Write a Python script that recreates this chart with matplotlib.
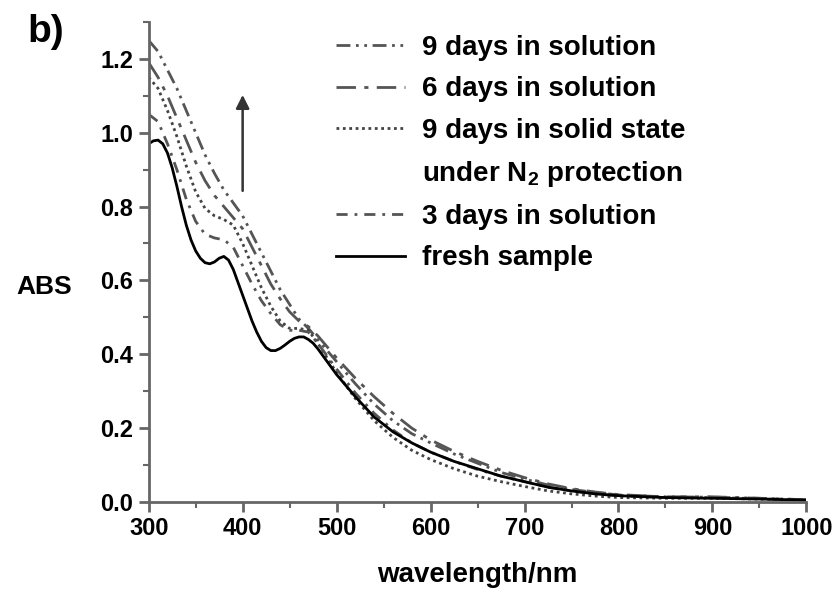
import numpy as np
import matplotlib
matplotlib.use('Agg')
import matplotlib.pyplot as plt
from matplotlib.lines import Line2D
from matplotlib.ticker import MultipleLocator

plt.rcParams['font.family'] = ['Liberation Sans', 'DejaVu Sans']
plt.rcParams['font.weight'] = 'bold'
plt.rcParams['mathtext.fontset'] = 'custom'
plt.rcParams['mathtext.rm'] = 'Liberation Sans:bold'
plt.rcParams['mathtext.bf'] = 'Liberation Sans:bold'
plt.rcParams['mathtext.default'] = 'bf'

# wavelength grid (nm)
wl = np.array([300, 310, 320, 330, 340, 350, 360, 370, 380, 390, 400, 410, 420, 430, 440,
               450, 460, 470, 480, 490, 500, 520, 540, 560, 580, 600, 625, 650, 675, 700,
               725, 750, 775, 800, 850, 900, 950, 1000])

# absorbance
day3_sol = np.array([1.05, 1.03, 0.97, 0.90, 0.82, 0.76, 0.725, 0.715, 0.71, 0.69, 0.64, 0.59, 0.545, 0.51, 0.48,
                     0.465, 0.465, 0.46, 0.43, 0.395, 0.36, 0.295, 0.24, 0.195, 0.16, 0.135, 0.11, 0.088, 0.07, 0.055,
                     0.04, 0.03, 0.022, 0.017, 0.012, 0.012, 0.009, 0.005])
day9_solid = np.array([1.15, 1.12, 1.06, 0.99, 0.91, 0.84, 0.795, 0.775, 0.765, 0.75, 0.70, 0.64, 0.58, 0.53, 0.49,
                       0.47, 0.47, 0.465, 0.43, 0.39, 0.35, 0.28, 0.22, 0.175, 0.14, 0.115, 0.09, 0.07, 0.055, 0.042,
                       0.03, 0.022, 0.016, 0.012, 0.01, 0.01, 0.008, 0.005])
day6_sol = np.array([1.19, 1.15, 1.10, 1.04, 0.98, 0.92, 0.87, 0.83, 0.80, 0.77, 0.74, 0.69, 0.64, 0.59, 0.55,
                     0.515, 0.49, 0.475, 0.45, 0.42, 0.39, 0.335, 0.285, 0.24, 0.2, 0.168, 0.137, 0.11, 0.086, 0.066,
                     0.049, 0.036, 0.027, 0.02, 0.014, 0.014, 0.01, 0.006])
day9_sol = np.array([1.25, 1.22, 1.17, 1.12, 1.06, 1.00, 0.94, 0.89, 0.845, 0.81, 0.775, 0.725, 0.675, 0.625, 0.575,
                     0.535, 0.495, 0.47, 0.44, 0.41, 0.38, 0.32, 0.265, 0.22, 0.185, 0.16, 0.13, 0.105, 0.08, 0.062,
                     0.046, 0.034, 0.026, 0.019, 0.014, 0.013, 0.01, 0.006])

wl_fresh = np.array([300, 305, 310, 315, 320, 325, 330, 335, 340, 345, 350, 355, 360, 365, 370, 375,
                     380, 385, 390, 395, 400, 405, 410, 415, 420, 425, 430, 435, 440, 445, 450, 455,
                     460, 465, 470, 475, 480, 490, 500, 520, 540, 560, 580, 600, 625, 650, 675, 700,
                     725, 750, 775, 800, 850, 900, 950, 1000])
fresh = np.array([0.970, 0.978, 0.980, 0.970, 0.945, 0.905, 0.855, 0.80, 0.75, 0.71, 0.68, 0.66, 0.648, 0.645, 0.65, 0.66,
                  0.665, 0.655, 0.63, 0.595, 0.56, 0.525, 0.49, 0.46, 0.435, 0.418, 0.41, 0.41, 0.416, 0.425, 0.435, 0.443,
                  0.447, 0.447, 0.44, 0.43, 0.415, 0.38, 0.345, 0.285, 0.23, 0.19, 0.16, 0.135, 0.11, 0.09, 0.07, 0.055,
                  0.04, 0.03, 0.022, 0.017, 0.012, 0.01, 0.008, 0.005])

fig = plt.figure(figsize=(8.4, 5.93), dpi=100)
ax = fig.add_axes([0.177, 0.1535, 0.783, 0.8095])

gray = '#555555'
ax.plot(wl, day9_sol, color=gray, lw=2, ls=(0, (5, 2, 1, 2, 1, 2)), label='9 days in solution')
ax.plot(wl, day6_sol, color=gray, lw=2, ls=(0, (7, 3, 1.5, 3)), label='6 days in solution')
ax.plot(wl, day9_solid, color='#444444', lw=2, ls=(0, (1, 1.3)), label='9 days in solid state')
ax.plot(wl, day3_sol, color=gray, lw=2, ls=(0, (4, 2.5, 1, 2.5)), label='3 days in solution')
ax.plot(wl_fresh, fresh, color='black', lw=2, label='fresh sample')

ax.annotate('', xy=(400, 1.11), xytext=(400, 0.835),
            arrowprops=dict(arrowstyle='-|>', color='#333333', lw=1.8, mutation_scale=20))

ax.set_xlim(300, 1000)
ax.set_ylim(0, 1.3)
ax.xaxis.set_major_locator(MultipleLocator(100))
ax.xaxis.set_minor_locator(MultipleLocator(50))
ax.yaxis.set_minor_locator(MultipleLocator(0.1))
ax.set_yticks(np.arange(0, 1.21, 0.2))
ax.set_yticklabels(['%.1f' % v for v in np.arange(0, 1.21, 0.2)])

for s in ['top', 'right']:
    ax.spines[s].set_visible(False)
for s in ['left', 'bottom']:
    ax.spines[s].set_color('#666666')
    ax.spines[s].set_linewidth(2)
ax.tick_params(which='major', direction='out', length=7, width=2, color='#666666',
               labelsize=17, pad=4)
ax.tick_params(which='minor', direction='out', length=4, width=1.5, color='#666666')
for lab in ax.get_xticklabels() + ax.get_yticklabels():
    lab.set_fontweight('bold')

ax.set_xlabel('wavelength/nm', fontsize=20, fontweight='bold', labelpad=16)
fig.text(0.02, 0.516, 'ABS', fontsize=19, fontweight='bold', va='center')
fig.text(0.033, 0.946, 'b)', fontsize=28, fontweight='bold', va='center')

handles, labels = ax.get_legend_handles_labels()
blank = Line2D([], [], color='none')
handles = handles[:3] + [blank] + handles[3:]
labels = labels[:3] + [r'under N$_2$ protection'] + labels[3:]
ax.legend(handles, labels, loc='upper left', bbox_to_anchor=(336 / 840, 1 - 35 / 593),
          bbox_transform=fig.transFigure, frameon=False, borderpad=0, borderaxespad=0,
          handlelength=2.5, handletextpad=0.6, labelspacing=0.55,
          prop={'weight': 'bold', 'size': 20})

fig.savefig('out.png', dpi=100)
